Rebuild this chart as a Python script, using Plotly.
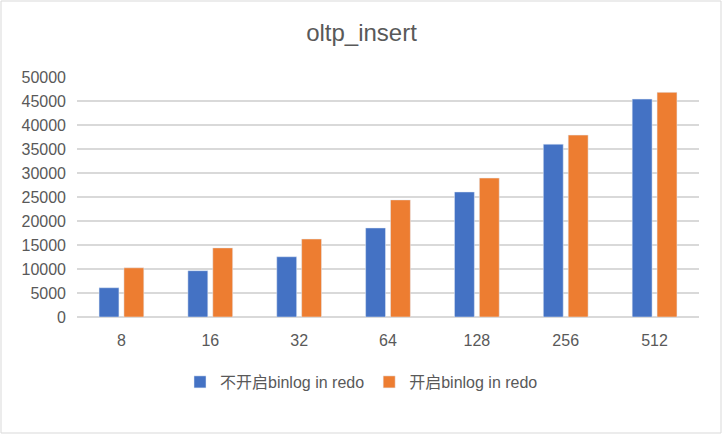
import plotly.graph_objects as go

categories = ["8", "16", "32", "64", "128", "256", "512"]
no_binlog = [6100, 9650, 12550, 18550, 26050, 36000, 45400]
with_binlog = [10250, 14400, 16250, 24400, 28950, 37900, 46800]
series_names = ["不开启binlog in redo", "开启binlog in redo"]

W, H = 723, 435
L, R, T, B = 77, 24, 77, 118
pw, ph = W - L - R, H - T - B

font_fam = "Liberation Sans, Arial, Noto Sans CJK SC, sans-serif"

fig = go.Figure()
fig.add_trace(go.Bar(x=categories, y=no_binlog, name=series_names[0], marker_color="#4472C4"))
fig.add_trace(go.Bar(x=categories, y=with_binlog, name=series_names[1], marker_color="#ED7D31"))

fig.update_layout(
    width=W, height=H,
    margin=dict(l=L, r=R, t=T, b=B, autoexpand=False),
    paper_bgcolor="white", plot_bgcolor="white",
    font=dict(family=font_fam, color="#595959", size=16),
    title=dict(text="oltp_insert", x=(W / 2 - L) / pw, xref="paper", xanchor="center",
               y=1 - 33 / H, yanchor="middle", font=dict(size=24, color="#595959")),
    barmode="group", bargap=0.44, bargroupgap=0.2,
    showlegend=True,
    legend=dict(orientation="h", x=(W / 2 - L) / pw, xanchor="center",
                y=-(382 - (T + ph)) / ph, yanchor="middle",
                font=dict(size=16, color="#595959"), itemwidth=30, tracegroupgap=0),
    xaxis=dict(type="category", showgrid=False, showline=False, ticks="",
               tickfont=dict(size=16, color="#595959"), ticklabelstandoff=12),
    yaxis=dict(range=[0, 50000], dtick=5000, tickformat="d", showgrid=True, gridcolor="#d9d9d9", gridwidth=1.5,
               zeroline=True, zerolinecolor="#d9d9d9", zerolinewidth=1.5, showline=False,
               tickfont=dict(size=16, color="#595959"), ticklabelstandoff=10),
    shapes=[dict(type="rect", xref="paper", yref="paper",
                 x0=(1 - L) / pw, x1=(W - 2 - L) / pw,
                 y0=-(H - 2 - (T + ph)) / ph, y1=(T + ph - 1) / ph,
                 line=dict(color="#d9d9d9", width=1), layer="below")],
)

fig.write_html("out.html", config={"displayModeBar": False},
               post_script="document.body.style.margin='0';document.body.style.overflow='hidden';")
